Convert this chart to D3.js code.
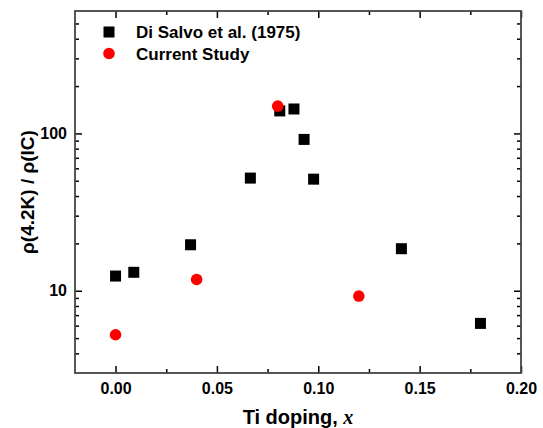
<!DOCTYPE html>
<html>
<head>
<meta charset="utf-8">
<script src="https://cdn.jsdelivr.net/npm/d3@7"></script>
<style>
  html, body { margin: 0; padding: 0; background: #fff; }
  svg { display: block; }
  text { font-family: "Liberation Sans", Arial, sans-serif; font-weight: bold; fill: #000; }
</style>
</head>
<body>
<svg id="chart" width="543" height="428"></svg>
<script>
// ---- data ----
const diSalvoX = [0.0, 0.009, 0.037, 0.0665, 0.081, 0.088, 0.093, 0.0977, 0.141, 0.18];
const diSalvoY = [12.4, 13.1, 19.6, 52, 139, 143, 91.6, 51.2, 18.5, 6.2];
const currentX = [0.0, 0.04, 0.08, 0.12];
const currentY = [5.25, 11.8, 149, 9.25];
const seriesNames = ["Di Salvo et al. (1975)", "Current Study"];
const xMajorTicks = [0.00, 0.05, 0.10, 0.15, 0.20];
const xMinorTicks = [0.025, 0.075, 0.125, 0.175];
const yMajorTicks = [10, 100];
const yMinorTicks = [4, 5, 6, 7, 8, 9, 20, 30, 40, 50, 60, 70, 80, 90, 200, 300, 400, 500];

// ---- layout ----
const L = 75, R = 521, T = 11, B = 373;
const svg = d3.select("#chart");
const x = d3.scaleLinear().domain([-0.02, 0.20]).range([L, R]);
const y = d3.scaleLog().domain([3, 600]).range([B, T]);

function styleAxis(g) {
  g.select(".domain").remove();
  g.selectAll(".tick line").attr("stroke", "#000").attr("stroke-width", 1.5);
  g.selectAll(".tick text").style("font-size", "16px").style("font-weight", "bold")
    .attr("fill", "#000").attr("font-family", "Liberation Sans, Arial, sans-serif");
}

// bottom
svg.append("g").attr("transform", `translate(0,${B})`)
  .call(d3.axisBottom(x).tickValues(xMajorTicks).tickSize(-7).tickPadding(10).tickFormat(d3.format(".2f")))
  .call(styleAxis);
svg.append("g").attr("transform", `translate(0,${B})`)
  .call(d3.axisBottom(x).tickValues(xMinorTicks).tickSize(-4).tickFormat(""))
  .call(styleAxis);
// top
svg.append("g").attr("transform", `translate(0,${T})`)
  .call(d3.axisTop(x).tickValues(xMajorTicks).tickSize(-7).tickFormat(""))
  .call(styleAxis);
svg.append("g").attr("transform", `translate(0,${T})`)
  .call(d3.axisTop(x).tickValues(xMinorTicks).tickSize(-4).tickFormat(""))
  .call(styleAxis);
// left
svg.append("g").attr("transform", `translate(${L},0)`)
  .call(d3.axisLeft(y).tickValues(yMajorTicks).tickSize(-7).tickPadding(8).tickFormat(d3.format("d")))
  .call(styleAxis);
svg.append("g").attr("transform", `translate(${L},0)`)
  .call(d3.axisLeft(y).tickValues(yMinorTicks).tickSize(-4).tickFormat(""))
  .call(styleAxis);
// right
svg.append("g").attr("transform", `translate(${R},0)`)
  .call(d3.axisRight(y).tickValues(yMajorTicks).tickSize(-7).tickFormat(""))
  .call(styleAxis);
svg.append("g").attr("transform", `translate(${R},0)`)
  .call(d3.axisRight(y).tickValues(yMinorTicks).tickSize(-4).tickFormat(""))
  .call(styleAxis);

// frame
svg.append("rect").attr("x", L).attr("y", T).attr("width", R - L).attr("height", B - T)
  .attr("fill", "none").attr("stroke", "#444").attr("stroke-width", 1.8);

// data: squares
const sq = 11;
svg.append("g").selectAll("rect").data(diSalvoX.map((v, i) => [v, diSalvoY[i]])).join("rect")
  .attr("x", d => x(d[0]) - sq / 2).attr("y", d => y(d[1]) - sq / 2)
  .attr("width", sq).attr("height", sq).attr("fill", "#000");
// circles
svg.append("g").selectAll("circle").data(currentX.map((v, i) => [v, currentY[i]])).join("circle")
  .attr("cx", d => x(d[0])).attr("cy", d => y(d[1])).attr("r", 5.8).attr("fill", "#ff0000");

// legend
const lg = svg.append("g");
lg.append("rect").attr("x", 109 - sq / 2).attr("y", 32 - sq / 2).attr("width", sq).attr("height", sq).attr("fill", "#000");
lg.append("circle").attr("cx", 109).attr("cy", 53.5).attr("r", 5.8).attr("fill", "#ff0000");
lg.append("text").attr("x", 136).attr("y", 38).style("font-size", "17px").text(seriesNames[0]);
lg.append("text").attr("x", 136).attr("y", 59.5).style("font-size", "17px").text(seriesNames[1]);

// axis titles
const xt = svg.append("text").attr("x", (L + R) / 2).attr("y", 424).attr("text-anchor", "middle").style("font-size", "20px");
xt.append("tspan").text("Ti doping, ");
xt.append("tspan").attr("font-family", "Liberation Serif, Times New Roman, serif").style("font-style", "italic").text("x");

svg.append("text").attr("transform", `translate(34,${(T + B) / 2}) rotate(-90)`)
  .attr("text-anchor", "middle").style("font-size", "19px").text("ρ(4.2K) / ρ(IC)");
</script>
</body>
</html>
